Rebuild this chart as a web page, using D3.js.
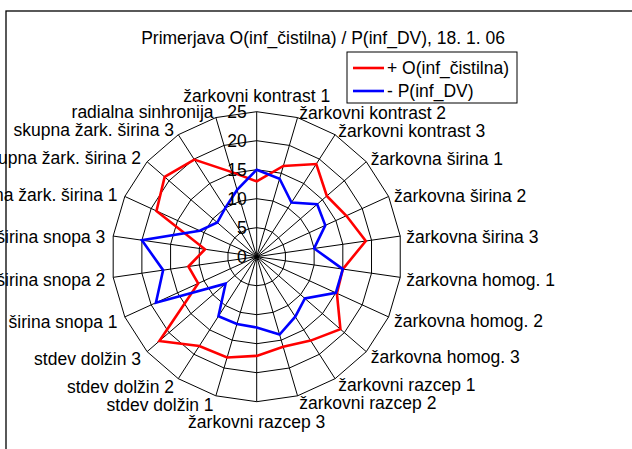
<!DOCTYPE html>
<html>
<head>
<meta charset="utf-8">
<script src="https://cdn.jsdelivr.net/npm/d3@7"></script>
<style>
  body { margin: 0; background: #fff; }
  svg { display: block; font-family: "Liberation Sans", Arial, sans-serif; }
</style>
</head>
<body>
<div id="chart"></div>
<script>
// DATA
const categories = [
  "žarkovni kontrast 1", "žarkovni kontrast 2", "žarkovni kontrast 3",
  "žarkovna širina 1", "žarkovna širina 2", "žarkovna širina 3",
  "žarkovna homog. 1", "žarkovna homog. 2", "žarkovna homog. 3",
  "žarkovni razcep 1", "žarkovni razcep 2", "žarkovni razcep 3",
  "stdev dolžin 1", "stdev dolžin 2", "stdev dolžin 3",
  "širina snopa 1", "širina snopa 2", "širina snopa 3",
  "skupna žark. širina 1", "skupna žark. širina 2", "skupna žark. širina 3",
  "radialna sinhronija"
];
const valuesO = [13, 16.3, 19, 16, 17, 19, 15, 15.2, 19.1, 17.2, 16.2, 17.1,
                 18.1, 18.3, 22.2, 11.1, 11.9, 9, 19, 21, 19.9, 15.2];
const valuesP = [15, 14, 11.1, 13.8, 13, 10, 15, 15, 11, 12.3, 14, 12.2,
                 12.1, 12.2, 7.1, 19.1, 16.3, 20, 10.8, 9, 10, 12];
const seriesNames = ["+ O(inf_čistilna)", "- P(inf_DV)"];
const seriesColors = ["#ff0000", "#0000ff"];
const ticks = [0, 5, 10, 15, 20, 25];
const title = "Primerjava O(inf_čistilna) / P(inf_DV), 18. 1. 06";

const width = 632, height = 449;
const cx = 256.7, cy = 256.7, R = 145;
const fs = "17.5px";

const r = d3.scaleLinear([0, 25], [0, R]);
const a = d3.scaleLinear([0, categories.length], [0, 2 * Math.PI]);

const svg = d3.select("#chart").append("svg")
    .attr("width", width)
    .attr("height", height)
    .attr("viewBox", [0, 0, width, height]);

// chart area frame (cut off by the window on right/bottom)
svg.append("rect")
    .attr("x", 6).attr("y", 11)
    .attr("width", 700).attr("height", 500)
    .attr("fill", "#fff")
    .attr("stroke", "#000")
    .attr("stroke-width", 1.3);

svg.append("text")
    .attr("x", 323).attr("y", 38)
    .attr("dy", "0.35em")
    .attr("text-anchor", "middle")
    .style("font-size", fs)
    .text(title);

const g = svg.append("g").attr("transform", `translate(${cx},${cy})`);

// rings
const ring = d3.lineRadial()
    .angle((d, i) => a(i))
    .radius(d => r(d))
    .curve(d3.curveLinearClosed);

g.append("g")
    .selectAll("path")
    .data(ticks.slice(1))
    .join("path")
      .attr("d", t => ring(categories.map(() => t)))
      .attr("fill", "none")
      .attr("stroke", "#000")
      .attr("stroke-width", 1);

// spokes
g.append("g")
    .selectAll("line")
    .data(categories)
    .join("line")
      .attr("x1", 0).attr("y1", 0)
      .attr("x2", (d, i) => r(25) * Math.sin(a(i)))
      .attr("y2", (d, i) => -r(25) * Math.cos(a(i)))
      .attr("stroke", "#000")
      .attr("stroke-width", 1);

// series
const line = d3.lineRadial()
    .angle((d, i) => a(i))
    .radius(d => r(d))
    .curve(d3.curveLinearClosed);

g.append("g")
    .selectAll("path")
    .data([valuesO, valuesP])
    .join("path")
      .attr("d", d => line(d))
      .attr("fill", "none")
      .attr("stroke", (d, i) => seriesColors[i])
      .attr("stroke-width", 2.6)
      .attr("stroke-linejoin", "miter");

// tick labels along the first spoke
g.append("g")
    .selectAll("text")
    .data(ticks)
    .join("text")
      .attr("x", -10)
      .attr("y", t => -r(t))
      .attr("dy", "0.35em")
      .attr("text-anchor", "end")
      .style("font-size", fs)
      .text(t => t);

// category labels
g.append("g")
    .selectAll("text")
    .data(categories)
    .join("text")
      .each(function(d, i) {
        const ang = a(i);
        const s = Math.sin(ang), c = Math.cos(ang);
        const el = d3.select(this);
        if (Math.abs(s) < 0.01) {
          el.attr("x", 0)
            .attr("y", c > 0 ? -R - 16 : R + 20)
            .attr("text-anchor", "middle");
        } else {
          const off = s > 0 ? 6 : 8;
          el.attr("x", (R + off) * s)
            .attr("y", -(R + off) * c + 1.5)
            .attr("text-anchor", s > 0 ? "start" : "end");
        }
      })
      .attr("dy", "0.35em")
      .style("font-size", fs)
      .text(d => d);

// legend
const legend = svg.append("g").attr("transform", "translate(347,52)");
legend.append("rect")
    .attr("width", 170).attr("height", 51)
    .attr("fill", "#fff")
    .attr("stroke", "#000")
    .attr("stroke-width", 1);
legend.selectAll("g")
    .data(seriesNames)
    .join("g")
      .attr("transform", (d, i) => `translate(0,${16 + i * 23})`)
      .call(e => e.append("line")
          .attr("x1", 6).attr("x2", 37)
          .attr("stroke", (d, i) => seriesColors[i])
          .attr("stroke-width", 2.6))
      .call(e => e.append("text")
          .attr("x", 40)
          .attr("dy", "0.35em")
          .style("font-size", fs)
          .text(d => d));
</script>
</body>
</html>
